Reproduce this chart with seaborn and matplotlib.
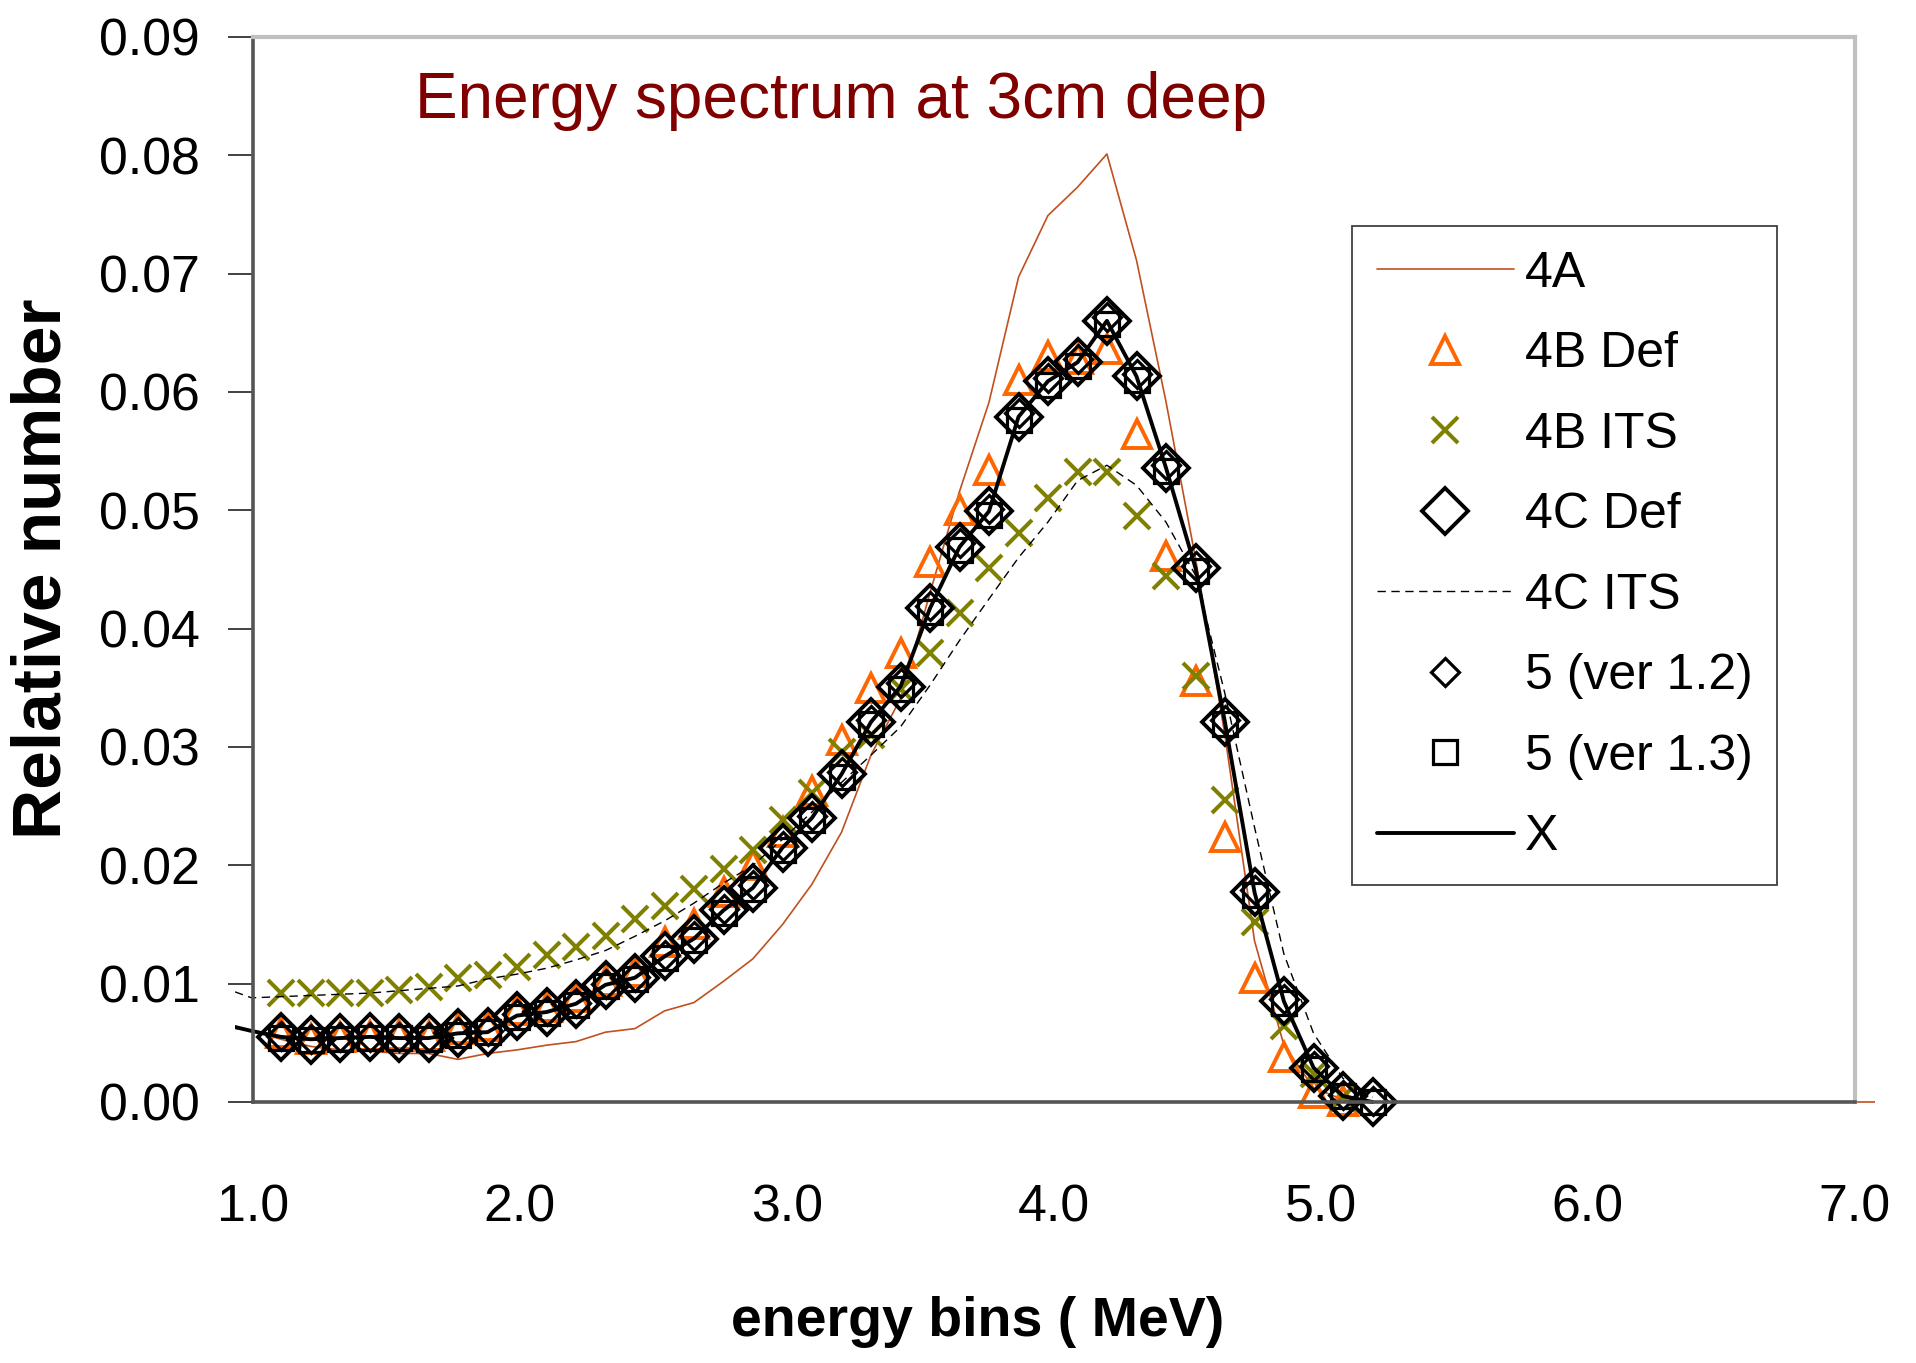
import matplotlib
matplotlib.use('Agg')
import matplotlib.pyplot as plt
from matplotlib import font_manager
from matplotlib.patches import Rectangle
from matplotlib.lines import Line2D
import seaborn as sns

# energy bin centres (MeV)
energy = [0.884, 0.995, 1.105, 1.216, 1.326, 1.437, 1.547, 1.658, 1.768, 1.879,
          1.989, 2.100, 2.210, 2.321, 2.431, 2.542, 2.652, 2.763, 2.873, 2.984,
          3.094, 3.205, 3.315, 3.426, 3.536, 3.647, 3.757, 3.868, 3.978, 4.089,
          4.199, 4.310, 4.420, 4.531, 4.641, 4.752, 4.862, 4.973, 5.083, 5.194]

a4 = [0.0064, 0.0060, 0.0053, 0.0047, 0.0044, 0.0043, 0.0041, 0.0041, 0.0036, 0.0041,
      0.0044, 0.0048, 0.0051, 0.0059, 0.0062, 0.0077, 0.0084, 0.0102, 0.0121, 0.0150,
      0.0184, 0.0228, 0.0293, 0.0341, 0.0430, 0.0516, 0.0591, 0.0697, 0.0749, 0.0773,
      0.0801, 0.0711, 0.0592, 0.0459, 0.0310, 0.0136, 0.0048, 0.0012, 0.0002, 0.0000]
tail_e = [5.194, 7.25]
tail_a4 = [0.0, 0.0]

b4_def = [0.0058, 0.0053, 0.0055, 0.0056, 0.0057, 0.0056, 0.0062, 0.0064, 0.0078, 0.0080,
          0.0089, 0.0102, 0.0110, 0.0135, 0.0150, 0.0177, 0.0200, 0.0228, 0.0263, 0.0306,
          0.0350, 0.0379, 0.0456, 0.0500, 0.0534, 0.0610, 0.0630, 0.0628, 0.0636, 0.0564,
          0.0461, 0.0356, 0.0224, 0.0105, 0.0038, 0.0008, 0.0001]

b4_its = [0.0092, 0.0092, 0.0092, 0.0092, 0.0095, 0.0097, 0.0105, 0.0107, 0.0114, 0.0124,
          0.0131, 0.0140, 0.0155, 0.0166, 0.0180, 0.0197, 0.0213, 0.0238, 0.0261, 0.0296,
          0.0310, 0.0349, 0.0379, 0.0413, 0.0451, 0.0481, 0.0510, 0.0532, 0.0532, 0.0495,
          0.0444, 0.0360, 0.0255, 0.0152, 0.0064, 0.0024, 0.0004]

c4_def = [0.0055, 0.0052, 0.0054, 0.0055, 0.0054, 0.0054, 0.0058, 0.0059, 0.0073, 0.0076,
          0.0083, 0.0099, 0.0105, 0.0123, 0.0138, 0.0162, 0.0181, 0.0215, 0.0240, 0.0277,
          0.0321, 0.0351, 0.0417, 0.0469, 0.0499, 0.0579, 0.0609, 0.0625, 0.0660, 0.0613,
          0.0536, 0.0451, 0.0321, 0.0177, 0.0085, 0.0029, 0.0005, 0.0000]

c4_its = [0.0097, 0.0088, 0.0089, 0.0090, 0.0091, 0.0092, 0.0094, 0.0096, 0.0098, 0.0104,
          0.0108, 0.0113, 0.0120, 0.0128, 0.0140, 0.0153, 0.0168, 0.0185, 0.0200, 0.0222,
          0.0245, 0.0270, 0.0293, 0.0317, 0.0352, 0.0390, 0.0425, 0.0460, 0.0490, 0.0525,
          0.0538, 0.0521, 0.0490, 0.0445, 0.0345, 0.0232, 0.0125, 0.0058, 0.0020, 0.0004]

v12 = [0.0056, 0.0053, 0.0055, 0.0055, 0.0055, 0.0055, 0.0059, 0.0060, 0.0074, 0.0077,
       0.0084, 0.0100, 0.0106, 0.0124, 0.0140, 0.0163, 0.0183, 0.0216, 0.0242, 0.0279,
       0.0323, 0.0354, 0.0419, 0.0472, 0.0501, 0.0582, 0.0612, 0.0628, 0.0663, 0.0615,
       0.0538, 0.0453, 0.0323, 0.0179, 0.0087, 0.0030, 0.0006, 0.0001]

v13 = [0.0054, 0.0052, 0.0053, 0.0054, 0.0054, 0.0053, 0.0057, 0.0059, 0.0072, 0.0075,
       0.0082, 0.0098, 0.0104, 0.0122, 0.0137, 0.0160, 0.0180, 0.0213, 0.0238, 0.0275,
       0.0319, 0.0349, 0.0414, 0.0466, 0.0496, 0.0576, 0.0606, 0.0622, 0.0657, 0.0610,
       0.0533, 0.0449, 0.0319, 0.0175, 0.0084, 0.0028, 0.0005, 0.0000]

x_line = [0.0066, 0.0060, 0.0055, 0.0053, 0.0054, 0.0055, 0.0054, 0.0054, 0.0058, 0.0059,
          0.0073, 0.0076, 0.0083, 0.0099, 0.0105, 0.0123, 0.0138, 0.0162, 0.0181, 0.0215,
          0.0240, 0.0277, 0.0321, 0.0351, 0.0417, 0.0469, 0.0499, 0.0579, 0.0609, 0.0625,
          0.0660, 0.0613, 0.0536, 0.0451, 0.0321, 0.0177, 0.0085, 0.0029, 0.0005, 0.0000]

x_ticks = [1, 2, 3, 4, 5, 6, 7]
y_ticks = [0.00, 0.01, 0.02, 0.03, 0.04, 0.05, 0.06, 0.07, 0.08, 0.09]
labels = ['4A', '4B Def', '4B ITS', '4C Def', '4C ITS', '5 (ver 1.2)', '5 (ver 1.3)', 'X']

C_4A = '#c0501f'
C_ORANGE = '#ff6600'
C_OLIVE = '#808000'

# marker looks, shared by plot and legend
TRI = dict(marker='^', markersize=20, markerfacecolor='none',
           markeredgecolor=C_ORANGE, markeredgewidth=2.8)
CROSS = dict(marker='x', markersize=19, markeredgecolor=C_OLIVE, markeredgewidth=2.9)
BIGD = dict(marker='D', markersize=23, markerfacecolor='none',
            markeredgecolor='black', markeredgewidth=2.8)
SMALLD = dict(marker='D', markersize=14.5, markerfacecolor='none',
              markeredgecolor='black', markeredgewidth=2.3)
SQ = dict(marker='s', markersize=17, markerfacecolor='none',
          markeredgecolor='black', markeredgewidth=2.3)

sns.set_theme(style='white')
installed = {f.name for f in font_manager.fontManager.ttflist}
narrow = 'Liberation Sans Narrow' if 'Liberation Sans Narrow' in installed else 'Liberation Sans'
k = 1.0 if narrow == 'Liberation Sans Narrow' else 0.85
plt.rcParams['font.family'] = [narrow, 'DejaVu Sans']
plt.rcParams['text.color'] = 'black'

fig = plt.figure(figsize=(19.16, 13.63), dpi=100)
ax = fig.add_axes([0.132, 0.1915, 0.836, 0.7815])

# lines may run a little past the axes, like the original plot area
clip = Rectangle((0.933, -0.002), 6.142, 0.1, transform=ax.transData, fill=False)

sns.lineplot(x=energy + tail_e, y=a4 + tail_a4, ax=ax, color=C_4A, linewidth=1.2,
             estimator=None, sort=False, legend=False)
ax.lines[-1].set_clip_path(clip)

mk = dict(linestyle='none', estimator=None, sort=False, legend=False, clip_on=False)
sns.lineplot(x=energy[2:39], y=b4_def, ax=ax, color=C_ORANGE, **TRI, **mk)
sns.lineplot(x=energy[2:39], y=b4_its, ax=ax, color=C_OLIVE, **CROSS, **mk)
sns.lineplot(x=energy[2:], y=c4_def, ax=ax, color='black', **BIGD, **mk)

sns.lineplot(x=energy, y=c4_its, ax=ax, color='black', linewidth=1.0,
             dashes=False, estimator=None, sort=False, legend=False)
ax.lines[-1].set_dashes((6, 4))
ax.lines[-1].set_clip_path(clip)

sns.lineplot(x=energy[2:], y=v12, ax=ax, color='black', **SMALLD, **mk)
sns.lineplot(x=energy[2:], y=v13, ax=ax, color='black', **SQ, **mk)

sns.lineplot(x=energy, y=x_line, ax=ax, color='black', linewidth=2.8,
             estimator=None, sort=False, legend=False)
ax.lines[-1].set_clip_path(clip)

ax.set_xlim(1, 7)
ax.set_ylim(0, 0.09)
ax.set_xticks(x_ticks)
ax.set_xticklabels([f'{v:.1f}' for v in x_ticks])
ax.set_yticks(y_ticks)
ax.set_yticklabels([f'{v:.2f}' for v in y_ticks])
ax.tick_params(axis='y', left=True, direction='out', length=18, width=1.3,
               color='#333333', pad=20, labelsize=44 * k, labelcolor='black')
ax.tick_params(axis='x', bottom=False, length=0, pad=59, labelsize=44 * k,
               labelcolor='black')
ax.set_xlabel('')
ax.set_ylabel('')
ax.grid(False)

for side in ['left', 'bottom']:
    ax.spines[side].set_color('#555555')
    ax.spines[side].set_linewidth(2.6)
for side in ['top', 'right']:
    ax.spines[side].set_color('#c0c0c0')
    ax.spines[side].set_linewidth(3)

ax.text(1.607, 0.0831, 'Energy spectrum at 3cm deep', color='#800000', fontsize=46,
        family=['Liberation Sans', 'DejaVu Sans'], ha='left', va='baseline')

fig.text(0.0224, 0.583, 'Relative number', rotation=90, fontsize=50, color='black',
         fontweight='bold', ha='center', va='center')
fig.text(0.510, 0.030, 'energy bins ( MeV)', fontsize=40, color='black',
         fontweight='bold', ha='center', va='center')

handles = [
    Line2D([], [], color=C_4A, linewidth=1.2),
    Line2D([], [], linestyle='none', **TRI),
    Line2D([], [], linestyle='none', **CROSS),
    Line2D([], [], linestyle='none', **BIGD),
    Line2D([], [], color='black', linewidth=1.0, dashes=(6, 4)),
    Line2D([], [], linestyle='none', **SMALLD),
    Line2D([], [], linestyle='none', **SQ),
    Line2D([], [], color='black', linewidth=2.8),
]
leg = ax.legend(handles, labels, loc='upper left', bbox_to_anchor=(0.7054, 0.8342),
                bbox_transform=fig.transFigure, borderaxespad=0, fontsize=36,
                handlelength=2.74, handletextpad=0.22, labelspacing=0.69,
                borderpad=0.5, numpoints=1, fancybox=False, framealpha=1,
                edgecolor='#404040', labelcolor='black')
leg.get_frame().set_linewidth(1.3)

fig.savefig('out.png', dpi=100)
